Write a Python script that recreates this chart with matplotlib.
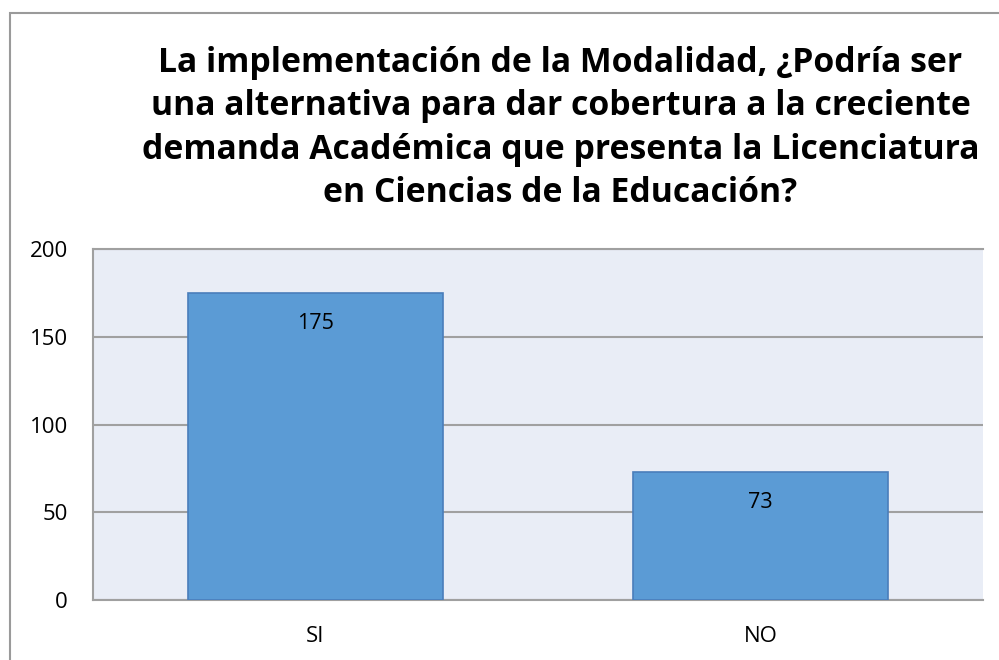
# Bar chart: modalidad como alternativa para la demanda academica

import matplotlib.pyplot as plt
from matplotlib.patches import Rectangle

categorias = ['SI', 'NO']
valores = [175, 73]
yticks = [0, 50, 100, 150, 200]
titulo = ('La implementación de la Modalidad, ¿Podría ser\n'
          'una alternativa para dar cobertura a la creciente\n'
          'demanda Académica que presenta la Licenciatura\n'
          'en Ciencias de la Educación?')

plt.rcParams['font.family'] = ['Open Sans', 'DejaVu Sans']

fig = plt.figure(figsize=(9.99, 6.6), dpi=100)
ax = fig.add_axes([0.0931, 0.0909, 0.8909, 0.5318])

# borde exterior del grafico
fig.patches.append(Rectangle((10/999, -0.1), 1.2, 1 - 13/660 + 0.1,
                             transform=fig.transFigure, fill=False,
                             edgecolor='#9a9a9a', lw=1.5))

ax.set_facecolor('#e9edf6')
x = range(len(categorias))
bars = ax.bar(x, valores, width=0.575, color='#5b9bd5',
              edgecolor='#4a7ebb', lw=1.2, zorder=3)

for b, v in zip(bars, valores):
    ax.annotate(str(v), (b.get_x() + b.get_width()/2, v),
                xytext=(0, -31), textcoords='offset pixels',
                ha='center', va='center', fontsize=15.5, zorder=4)

ax.set_xlim(-0.5, 1.5)
ax.set_ylim(0, 200)
ax.set_yticks(yticks)
ax.set_xticks(list(x))
ax.set_xticklabels(categorias)
ax.tick_params(length=0, labelsize=16)
ax.tick_params(axis='y', pad=18)
ax.tick_params(axis='x', pad=19)
ax.yaxis.grid(True, color='#a0a0a0', lw=1.5, zorder=1)
ax.set_axisbelow(True)
ax.spines['right'].set_visible(False)
for s in ['left', 'top', 'bottom']:
    ax.spines[s].set_color('#a0a0a0')
    ax.spines[s].set_linewidth(1.5)

fig.text(0.561, 1 - 128/660, titulo, ha='center', va='center', fontsize=24.3,
         fontweight='bold', linespacing=1.36)

plt.savefig('out.png', dpi=100)
